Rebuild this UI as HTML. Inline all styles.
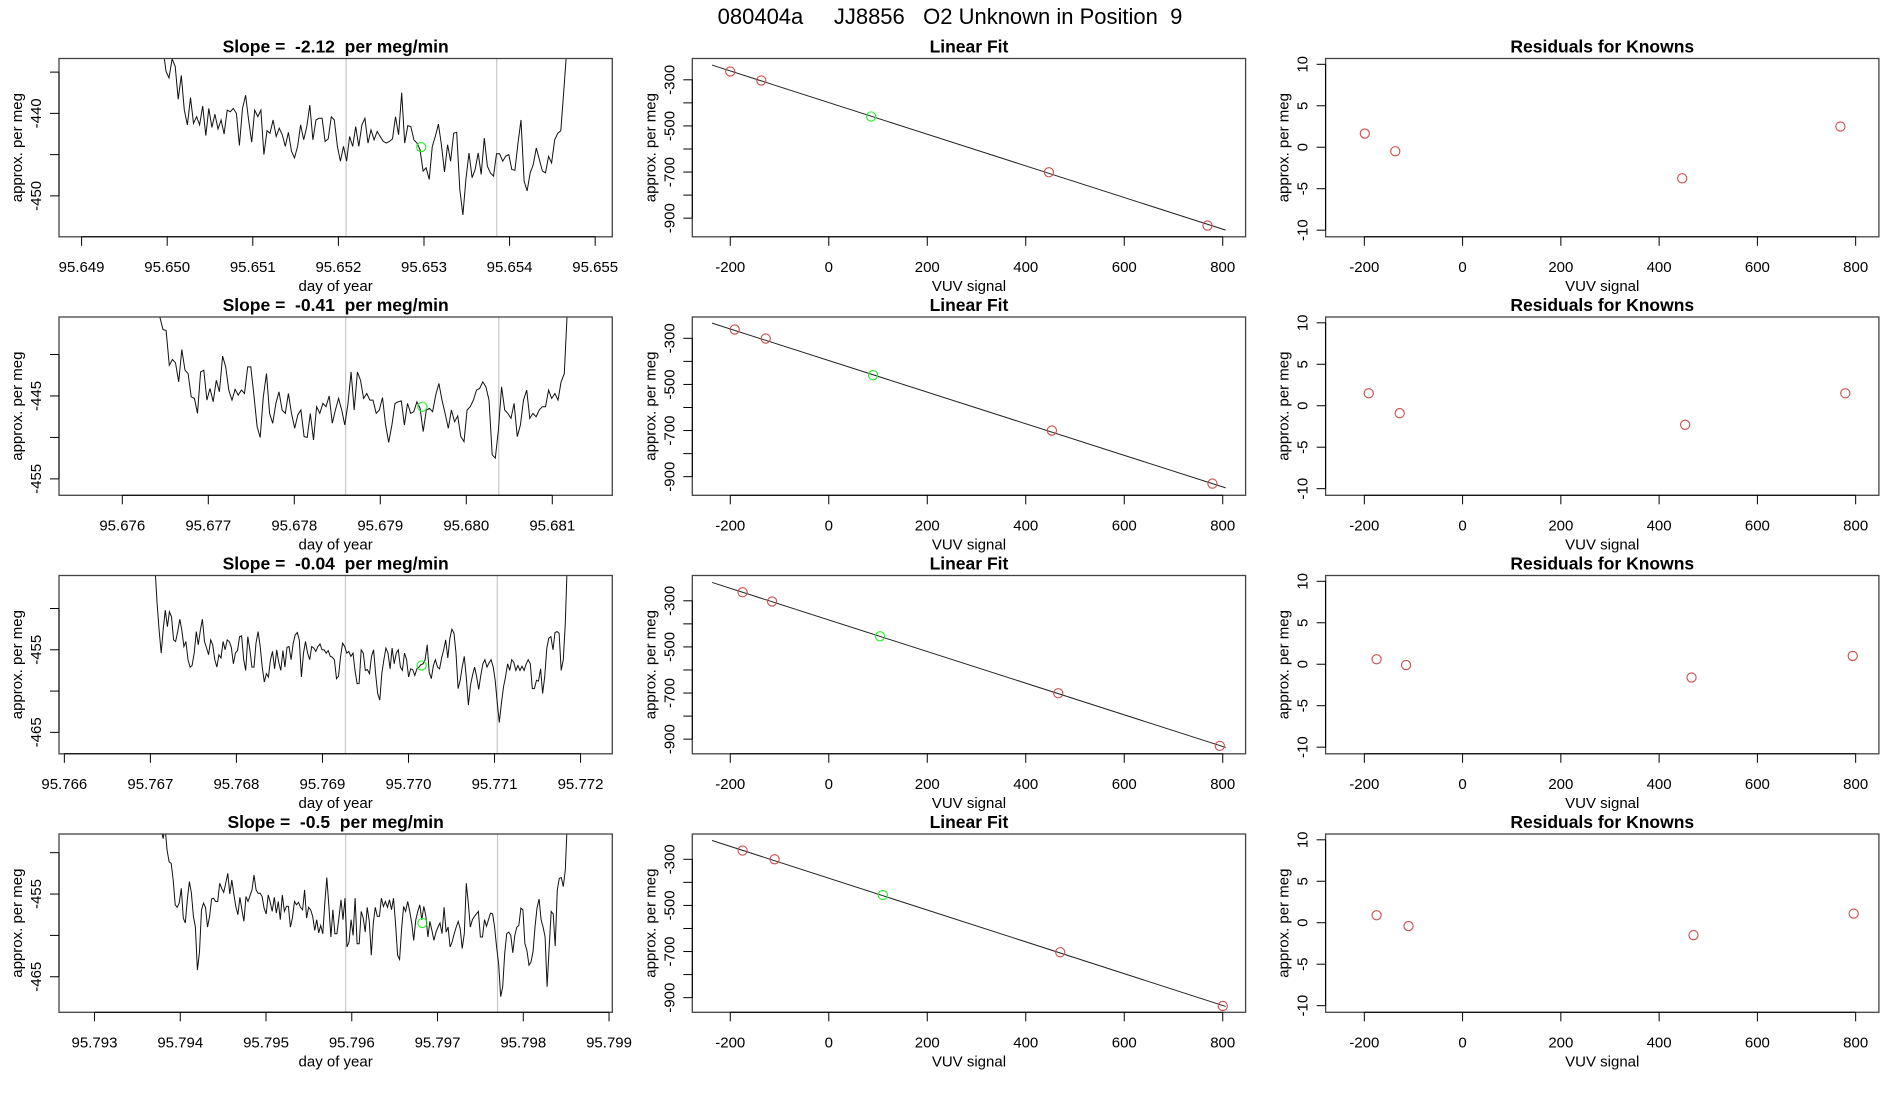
<!DOCTYPE html>
<html><head><meta charset="utf-8"><style>
html,body{margin:0;padding:0;background:#fff;}
svg{display:block;font-family:"Liberation Sans",Arial,sans-serif;}
svg text{white-space:pre;}
</style></head><body>
<svg id="fig" width="1900" height="1100" viewBox="0 0 1900 1100" xmlns="http://www.w3.org/2000/svg" xml:space="preserve">
<text x="950" y="24" text-anchor="middle" font-size="22">080404a     JJ8856   O2 Unknown in Position  9</text>
</svg>
<script>
// ---- time series data (day of year vs approx. per meg) ----
const tsSlopes = ["-2.12", "-0.41", "-0.04", "-0.5"];
const tsStart = [95.64995, 95.676437, 95.767054, 95.793776];
const tsEnd = [95.65467, 95.681176, 95.771847, 95.798514];
const tsXlim = [[95.648736, 95.6552], [95.675264, 95.681698], [95.765938, 95.772369], [95.792586, 95.799038]];
const tsYlim = [[-454.96, -433.35], [-456.98, -435.48], [-467.6, -446.0], [-469.3, -447.74]];
const tsXTicks = [
  ["95.649","95.650","95.651","95.652","95.653","95.654","95.655"],
  ["95.676","95.677","95.678","95.679","95.680","95.681"],
  ["95.766","95.767","95.768","95.769","95.770","95.771","95.772"],
  ["95.793","95.794","95.795","95.796","95.797","95.798","95.799"]];
const tsYTicks = [[-435,-440,-445,-450],[-440,-445,-450,-455],[-450,-455,-460,-465],[-450,-455,-460,-465]];
const tsYTickLabels = [["","-440","","-450"],["","-445","","-455"],["","-455","","-465"],["","-455","","-465"]];
const tsVLines = [[95.65209, 95.65385],[95.678597, 95.680378],[95.769267, 95.771032],[95.795929, 95.7977]];
const tsGreenX = [95.652968, 95.67949, 95.770153, 95.796824];
const tsGreenY = [-444.1, -446.3, -456.9, -458.5];
const ts1 = [-432,-434.9,-435.7,-433.4,-434.3,-438.3,-435.4,-439.6,-441.4,-438.1,-441.2,-440.4,-441.4,-439.1,-442.7,-439.4,-441.7,-440.1,-441.9,-440.8,-442.5,-439.6,-439.8,-439.4,-440.0,-443.9,-439.4,-437.8,-440.8,-443.5,-439.6,-440.4,-439.6,-445.0,-442.1,-442.4,-440.8,-442.8,-441.8,-442.6,-444.0,-442.3,-444.6,-445.4,-444.0,-441.4,-443.2,-441.6,-439.0,-443.2,-440.8,-440.6,-440.6,-443.4,-443.1,-440.4,-440.8,-444.0,-445.8,-444.0,-445.8,-442.8,-444.0,-441.6,-444.0,-441.4,-440.6,-443.6,-442.0,-443.2,-442.2,-442.8,-443.4,-443.6,-443.4,-443.1,-440.4,-442.6,-437.5,-443.6,-441.5,-441.6,-443.2,-443.6,-444.4,-447.0,-446.6,-448.0,-444.0,-442.8,-441.3,-443.8,-447.1,-443.8,-445.8,-442.4,-442.3,-449.2,-452.3,-448.0,-444.8,-447.8,-446.8,-444.8,-447.4,-443.0,-446.4,-447.2,-447.6,-444.9,-444.9,-445.8,-445.2,-445.0,-446.8,-446.9,-443.6,-440.8,-448.2,-449.4,-447.2,-446.2,-444.2,-445.6,-447.0,-447.2,-445.2,-446.0,-443.2,-442.4,-442.1,-437.1,-432];
const ts2 = [-435.5,-437.0,-437.1,-441.3,-440.6,-441.0,-443.3,-439.4,-441.9,-442.3,-445.1,-445.3,-447.1,-442.1,-441.9,-445.5,-444.1,-445.7,-443.1,-444.5,-440.2,-441.5,-444.3,-445.5,-444.2,-444.9,-444.3,-444.7,-441.5,-441.5,-444.9,-448.7,-450.0,-445.1,-442.3,-447.1,-448.3,-445.9,-444.5,-446.7,-447.1,-444.7,-447.1,-448.9,-447.3,-446.7,-449.9,-450.0,-447.1,-450.3,-446.3,-447.1,-445.9,-446.3,-445.0,-448.3,-446.7,-445.3,-446.7,-448.5,-445.9,-442.1,-446.7,-442.1,-443.1,-445.3,-444.7,-445.5,-445.5,-447.1,-446.7,-445.2,-448.5,-450.6,-448.5,-445.9,-445.7,-445.6,-448.5,-445.9,-447.1,-446.9,-445.7,-446.5,-449.3,-446.7,-446.5,-446.9,-444.9,-443.5,-445.5,-447.1,-448.9,-446.7,-448.1,-447.4,-449.9,-450.5,-446.7,-446.3,-445.5,-444.3,-444.1,-443.3,-443.9,-445.5,-452.1,-452.5,-449.1,-443.9,-446.7,-447.1,-447.7,-445.9,-449.9,-448.5,-445.5,-444.3,-447.7,-447.1,-447.5,-446.7,-446.3,-446.3,-444.3,-445.3,-444.7,-445.5,-443.3,-442.3,-434.5];
const ts3 = [-445,-449.4,-452.6,-455.4,-452.4,-450.2,-452.2,-450.4,-451.0,-453.8,-454.0,-452.8,-451.3,-452.6,-454.6,-454.0,-456.2,-457.1,-456.9,-455.4,-452.8,-454.4,-452.6,-451.3,-454.0,-454.8,-455.6,-453.8,-454.4,-456.2,-457.1,-455.6,-456.0,-454.0,-455.0,-453.8,-454.0,-454.7,-456.7,-455.4,-455.1,-453.4,-453.3,-456.2,-457.5,-453.4,-455.0,-457.1,-457.1,-454.2,-452.8,-454.6,-457.1,-458.9,-457.9,-458.3,-456.2,-455.2,-457.3,-455.0,-456.5,-457.5,-455.1,-457.1,-454.7,-454.6,-456.2,-454.2,-453.2,-452.9,-453.8,-458.3,-455.4,-454.0,-455.4,-456.2,-454.6,-454.8,-455.2,-454.6,-454.3,-455.0,-455.0,-455.4,-455.1,-455.8,-455.9,-456.2,-458.5,-458.2,-455.8,-454.2,-454.6,-455.4,-455.2,-455.8,-455.4,-457.5,-459.1,-459.1,-455.0,-455.4,-457.5,-457.4,-457.9,-455.8,-455.0,-457.9,-460.3,-461.1,-457.9,-456.2,-454.8,-455.4,-457.3,-454.8,-456.7,-455.4,-455.0,-457.1,-457.5,-455.4,-456.2,-458.3,-457.3,-457.4,-458.1,-457.3,-457.1,-456.8,-456.7,-456.2,-454.4,-457.7,-458.5,-456.9,-456.2,-457.1,-457.3,-456.0,-455.0,-453.8,-456.0,-453.6,-452.5,-453.0,-455.4,-459.7,-458.7,-457.1,-455.8,-458.5,-461.7,-459.3,-458.1,-457.1,-458.3,-459.8,-458.1,-456.7,-456.2,-457.1,-456.6,-456.2,-457.1,-458.7,-461.5,-463.8,-461.5,-459.5,-458.3,-456.7,-457.5,-456.2,-456.5,-457.5,-456.9,-457.5,-457.0,-457.5,-456.7,-456.2,-456.7,-459.7,-459.7,-458.7,-458.8,-457.3,-460.3,-458.3,-454.8,-453.6,-453.4,-455.0,-452.9,-452.8,-453.0,-457.5,-456.2,-451.8,-444];
const ts4 = [-447,-448.3,-447,-449.7,-451.1,-451.3,-453.3,-456.3,-456.6,-456.1,-454.3,-457.9,-458.5,-455.7,-453.5,-454.9,-457.7,-459.0,-464.2,-462.0,-456.9,-456.1,-456.6,-459.0,-457.7,-455.6,-455.5,-455.9,-455.9,-453.7,-454.3,-454.8,-453.7,-452.5,-455.0,-453.3,-455.0,-456.5,-457.5,-455.4,-456.9,-458.3,-455.3,-455.9,-455.2,-454.5,-452.7,-454.5,-454.9,-454.9,-455.3,-456.7,-457.4,-455.1,-456.0,-457.1,-455.4,-457.3,-455.9,-458.1,-455.1,-457.1,-456.5,-456.5,-459.0,-457.9,-455.9,-456.3,-456.0,-456.6,-456.9,-454.5,-457.9,-456.6,-456.9,-457.7,-459.4,-458.1,-459.7,-458.8,-459.8,-456.1,-453.0,-456.3,-460.2,-456.9,-459.8,-459.8,-457.9,-455.7,-458.1,-455.5,-461.4,-460.8,-458.1,-460.0,-455.5,-461.0,-461.0,-457.1,-457.9,-459.6,-456.6,-458.3,-462.4,-458.5,-456.6,-457.7,-457.7,-455.5,-456.5,-455.9,-456.6,-455.7,-456.9,-455.5,-458.5,-462.4,-462.9,-459.2,-456.5,-457.1,-455.9,-457.1,-458.5,-460.6,-458.1,-457.1,-456.3,-458.1,-456.5,-457.7,-460.2,-458.3,-459.4,-460.6,-459.6,-459.0,-458.5,-459.8,-456.6,-459.6,-459.0,-461.4,-460.8,-459.8,-459.0,-458.3,-459.2,-461.6,-459.8,-453.7,-456.1,-459.0,-458.1,-457.7,-457.4,-457.1,-460.2,-460.2,-458.1,-458.9,-458.1,-457.3,-457.4,-459.0,-461.4,-463.4,-467.4,-466.2,-462.2,-459.8,-459.6,-460.0,-462.1,-460.0,-459.0,-458.8,-456.7,-456.9,-461.0,-461.8,-463.6,-463.2,-462.0,-459.0,-456.7,-455.6,-458.1,-459.0,-460.2,-466.2,-461.4,-457.1,-457.4,-461.3,-454.5,-453.1,-453.0,-454.1,-452.1,-446];
const tsSeries = [ts1, ts2, ts3, ts4];

// ---- linear fit data ----
const fitKnownX = [[-200,-137,447,769],[-191,-128,453,779],[-175,-115,466,794],[-175,-110,470,800]];
const fitKnownY = [[-264,-303,-701,-932],[-262,-301,-700,-930],[-263,-303,-701,-929],[-262,-300,-703,-936]];
const fitUnkX = [86, 90, 104, 110];
const fitUnkY = [-459, -460, -454, -455];
const fitSlope = [-0.6865, -0.685, -0.686, -0.690];
const fitIntercept = [-398.7, -396.5, -383.0, -382.0];
const fitLineRange = [-237, 806];
const fitXlim = [-277.1, 846.4];
const fitYlim = [[-980.8,-207.6],[-980.8,-207.6],[-963.5,-190.3],[-963.5,-190.3]];
const fitXTicks = [-200,0,200,400,600,800];
const fitYTicks = [-300,-400,-500,-600,-700,-800,-900];
const fitYTickLabels = ["-300","","-500","","-700","","-900"];

// ---- residuals ----
const resX = [[-199,-137,447,769],[-191,-128,453,779],[-175,-115,466,794],[-175,-110,470,796]];
const resY = [[1.65,-0.48,-3.75,2.5],[1.5,-0.9,-2.3,1.5],[0.6,-0.1,-1.6,1.0],[0.9,-0.4,-1.5,1.1]];
const resXlim = [-278.8, 847.3];
const resYlim = [-10.8, 10.7];
const resYTicks = [10,5,0,-5,-10];

const NS = "http://www.w3.org/2000/svg";
const svg = document.getElementById("fig");
function mk(tag, attrs, parent){
  const e = document.createElementNS(NS, tag);
  for (const k in attrs) e.setAttribute(k, attrs[k]);
  (parent||svg).appendChild(e);
  return e;
}
function scale(d0,d1,p0,p1){ return v => p0 + (v-d0)/(d1-d0)*(p1-p0); }

const colLeft = [59, 692.3, 1325.6];
const boxW = 553.3;
const rowTop = [58.5, 317, 575.5, 834];
const boxH = 178.3;

function frame(g, L, T, title, xlab, ylab){
  const t = mk("text",{x:L+boxW/2, y:T-6, "text-anchor":"middle","font-size":"17.5","font-weight":"bold"}, g);
  t.textContent = title;
  
  
  const b = mk("rect",{x:L,y:T,width:boxW,height:boxH,fill:"none",stroke:"#444","stroke-width":1.3}, g);
  
  
  const xl = mk("text",{x:L+boxW/2, y:T+boxH+54, "text-anchor":"middle","font-size":"15"}, g);
  xl.textContent = xlab;
  
  
  const cy = T+boxH/2;
  const yl = mk("text",{x:L-42, y:cy+5, "text-anchor":"middle","font-size":"15", transform:`rotate(-90 ${L-42} ${cy})`}, g);
  yl.textContent = ylab;
  
  
}
function xAxis(g, sx, vals, labels, B){
  const x0 = sx(vals[0]), x1 = sx(vals[vals.length-1]);
  const ln = mk("line",{x1:x0,y1:B,x2:x1,y2:B,stroke:"#000","stroke-width":1}, g);
  
  
  vals.forEach((v,i)=>{
    const x = sx(v);
    const tk = mk("line",{x1:x,y1:B,x2:x,y2:B+9,stroke:"#000","stroke-width":1}, g);
    
    
    const tl = mk("text",{x:x,y:B+35,"text-anchor":"middle","font-size":"15"}, g);
    tl.textContent = labels[i];
    
    
  });
}
function yAxis(g, sy, vals, labels, L){
  const ln = mk("line",{x1:L,y1:sy(vals[0]),x2:L,y2:sy(vals[vals.length-1]),stroke:"#000","stroke-width":1}, g);
  
  
  vals.forEach((v,i)=>{
    const y = sy(v);
    const tk = mk("line",{x1:L-9,y1:y,x2:L,y2:y,stroke:"#000","stroke-width":1}, g);
    
    
    if (labels[i] !== "") {
      const tl = mk("text",{x:L-18,y:y,"text-anchor":"middle","font-size":"15",transform:`rotate(-90 ${L-18} ${y})`}, g);
      tl.textContent = labels[i];
      
      
    }
  });
}
function circle(g, x, y, col, name){
  const c = mk("circle",{cx:x,cy:y,r:4.6,fill:"none",stroke:col,"stroke-width":1.1}, g);
  
  
}

for (let r=0; r<4; r++){
  const T = rowTop[r], B = T+boxH;
  {
    const L = colLeft[0], R = L+boxW;
    const g = mk("g",{});
    
    
    const sx = scale(tsXlim[r][0], tsXlim[r][1], L, R);
    const sy = scale(tsYlim[r][0], tsYlim[r][1], B, T);
    const cp = mk("clipPath",{id:"clip"+r}, g);
    mk("rect",{x:L,y:T,width:boxW,height:boxH}, cp);
    tsVLines[r].forEach(v=>{
      const l = mk("line",{x1:sx(v),y1:T,x2:sx(v),y2:B,stroke:"#c8c8c8","stroke-width":1.2}, g);
      
      
    });
    const ys = tsSeries[r], n = ys.length;
    const pts = ys.map((v,i)=>{
      const d = tsStart[r] + (tsEnd[r]-tsStart[r])*i/(n-1);
      return sx(d).toFixed(1)+","+sy(v).toFixed(1);
    }).join(" ");
    const pl = mk("polyline",{points:pts,fill:"none",stroke:"#111","stroke-width":1,"clip-path":`url(#clip${r})`}, g);
    
    
    circle(g, sx(tsGreenX[r]), sy(tsGreenY[r]), "#22ee22", "unknown-point");
    frame(g, L, T, `Slope =  ${tsSlopes[r]}  per meg/min`, "day of year", "approx. per meg");
    xAxis(g, sx, tsXTicks[r].map(Number), tsXTicks[r], B);
    yAxis(g, sy, tsYTicks[r], tsYTickLabels[r], L);
  }
  {
    const L = colLeft[1], R = L+boxW;
    const g = mk("g",{});
    
    
    const sx = scale(fitXlim[0], fitXlim[1], L, R);
    const sy = scale(fitYlim[r][0], fitYlim[r][1], B, T);
    const xa = fitLineRange[0], xb = fitLineRange[1];
    const fl = mk("line",{x1:sx(xa),y1:sy(fitIntercept[r]+fitSlope[r]*xa),x2:sx(xb),y2:sy(fitIntercept[r]+fitSlope[r]*xb),stroke:"#222","stroke-width":1}, g);
    
    
    fitKnownX[r].forEach((v,i)=> circle(g, sx(v), sy(fitKnownY[r][i]), "#cd4b4b", "known-point"));
    circle(g, sx(fitUnkX[r]), sy(fitUnkY[r]), "#22ee22", "unknown-point");
    frame(g, L, T, "Linear Fit", "VUV signal", "approx. per meg");
    xAxis(g, sx, fitXTicks, fitXTicks.map(String), B);
    yAxis(g, sy, fitYTicks, fitYTickLabels, L);
  }
  {
    const L = colLeft[2], R = L+boxW;
    const g = mk("g",{});
    
    
    const sx = scale(resXlim[0], resXlim[1], L, R);
    const sy = scale(resYlim[0], resYlim[1], B, T);
    resX[r].forEach((v,i)=> circle(g, sx(v), sy(resY[r][i]), "#cd4b4b", "residual-point"));
    frame(g, L, T, "Residuals for Knowns", "VUV signal", "approx. per meg");
    xAxis(g, sx, fitXTicks, fitXTicks.map(String), B);
    yAxis(g, sy, resYTicks, resYTicks.map(String), L);
  }
}
</script>
</body></html>
